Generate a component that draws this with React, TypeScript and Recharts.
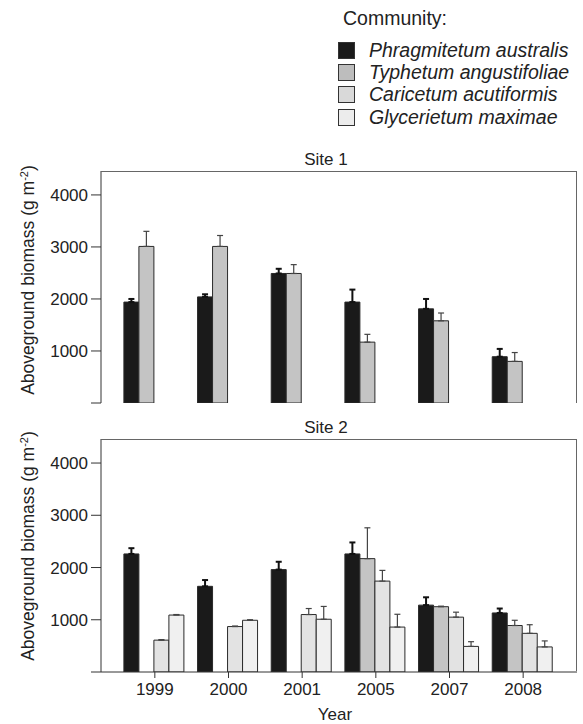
import { BarChart, Bar, XAxis, YAxis, ErrorBar } from "recharts";

const years = ["1999", "2000", "2001", "2005", "2007", "2008"];
const yTicks = [0, 1000, 2000, 3000, 4000];

// Site 1 (only two communities)
const s1Phrag = [1940, 2040, 2490, 1940, 1810, 890];
const s1PhragErr = [60, 50, 90, 240, 190, 150];
const s1Typha = [3010, 3010, 2490, 1170, 1580, 800];
const s1TyphaErr = [290, 210, 170, 150, 150, 170];

// Site 2
const s2Phrag = [2260, 1640, 1960, 2260, 1280, 1130];
const s2PhragErr = [110, 120, 150, 220, 150, 85];
const s2Typha = [null, null, null, 2170, 1250, 890];
const s2TyphaErr = [null, null, null, 590, 10, 100];
const s2Caric = [610, 870, 1100, 1740, 1050, 740];
const s2CaricErr = [10, 10, 115, 205, 95, 165];
const s2Glyc = [1090, 990, 1010, 860, 490, 480];
const s2GlycErr = [10, 10, 245, 245, 90, 115];

const communities = [
  { key: "phrag", name: "Phragmitetum australis", fill: "#1a1a1a", swatch: "#1a1a1a" },
  { key: "typha", name: "Typhetum angustifoliae", fill: "#c4c4c4", swatch: "#bdbdbd" },
  { key: "caric", name: "Caricetum acutiformis", fill: "#e3e3e3", swatch: "#d9d9d9" },
  { key: "glyc", name: "Glycerietum maximae", fill: "#f0f0f0", swatch: "#ececec" },
];

const up = (e: number | null) => (e == null ? null : [0, e]);

const site1 = years.map((year, i) => ({
  year,
  phrag: s1Phrag[i],
  phragErr: up(s1PhragErr[i]),
  typha: s1Typha[i],
  typhaErr: up(s1TyphaErr[i]),
  caric: null,
  caricErr: null,
  glyc: null,
  glycErr: null,
}));

const site2 = years.map((year, i) => ({
  year,
  phrag: s2Phrag[i],
  phragErr: up(s2PhragErr[i]),
  typha: s2Typha[i],
  typhaErr: up(s2TyphaErr[i]),
  caric: s2Caric[i],
  caricErr: up(s2CaricErr[i]),
  glyc: s2Glyc[i],
  glycErr: up(s2GlycErr[i]),
}));

const FONT = "'Liberation Sans', Arial, Helvetica, sans-serif";
const DOMAIN: [number, number] = [0, 4460];

function Panel({ data, showX, height, margin }: { data: any[]; showX: boolean; height: number; margin: any }) {
  return (
    <BarChart width={583} height={height} data={data} margin={margin} barCategoryGap="8%" barGap={0}>
      <XAxis
        dataKey="year"
        padding={{ left: 17, right: 17 }}
        stroke="#333"
        tick={showX ? { fill: "#222", fontSize: 17 } : false}
        tickLine={showX}
        tickSize={6}
        tickMargin={5}
        height={showX ? 30 : 0}
      />
      <YAxis
        domain={DOMAIN}
        ticks={yTicks}
        tickFormatter={(v: number) => (v === 0 ? "" : String(v))}
        width={101}
        stroke="#333"
        tickSize={10}
        tickMargin={3}
        tick={{ fill: "#222", fontSize: 17 }}
        allowDataOverflow
      />
      {communities.map((c) => (
        <Bar key={c.key} dataKey={c.key} fill={c.fill} stroke="#2a2a2a" strokeWidth={1} isAnimationActive={false}>
          <ErrorBar
            dataKey={c.key + "Err"}
            width={3}
            stroke={c.key === "phrag" ? "#111" : "#444"}
            strokeWidth={c.key === "phrag" ? 2 : 1.2}
            direction="y"
          />
        </Bar>
      ))}
    </BarChart>
  );
}

function Frame({ top }: { top: number }) {
  return (
    <div
      style={{
        position: "absolute",
        left: 101,
        top,
        width: 476,
        height: 232,
        borderTop: "1px solid #666",
        borderRight: "1px solid #666",
        boxSizing: "border-box",
        pointerEvents: "none",
      }}
    />
  );
}

function YLabel({ top }: { top: number }) {
  return (
    <div
      style={{
        position: "absolute",
        left: 28,
        top,
        transform: "translate(-50%, -50%) rotate(-90deg)",
        whiteSpace: "nowrap",
        fontSize: 17.5,
        color: "#222",
      }}
    >
      Aboveground biomass (g m<sup style={{ fontSize: 11, verticalAlign: "6px", lineHeight: 0 }}>-2</sup>)
    </div>
  );
}

export default function App() {
  return (
    <div style={{ position: "absolute", left: 0, top: 0, width: 583, height: 724, background: "#fff", fontFamily: FONT }}>
      {/* legend */}
      <div style={{ position: "absolute", left: 343, top: 7, fontSize: 19.5, lineHeight: "22px", color: "#222" }}>
        Community:
      </div>
      <div style={{ position: "absolute", left: 338, top: 39 }}>
        {communities.map((c) => (
          <div key={c.key} style={{ display: "flex", alignItems: "center", height: 22.3 }}>
            <div
              style={{
                width: 17,
                height: 17,
                background: c.swatch,
                border: "1px solid #333",
                boxSizing: "border-box",
                marginRight: 14,
              }}
            />
            <span style={{ fontSize: 19.5, fontStyle: "italic", color: "#222", whiteSpace: "nowrap" }}>{c.name}</span>
          </div>
        ))}
      </div>

      <div style={{ position: "absolute", left: 326, top: 160, transform: "translate(-50%, -50%)", fontSize: 17, color: "#222" }}>
        Site 1
      </div>
      <div style={{ position: "absolute", top: 140, left: 0 }}>
        <Panel data={site1} showX={false} height={270} margin={{ top: 31, right: 6, bottom: 7, left: 0 }} />
      </div>
      <Frame top={171} />
      <YLabel top={280} />

      <div style={{ position: "absolute", left: 326, top: 428, transform: "translate(-50%, -50%)", fontSize: 17, color: "#222" }}>
        Site 2
      </div>
      <div style={{ position: "absolute", top: 410, left: 0 }}>
        <Panel data={site2} showX={true} height={292} margin={{ top: 29, right: 6, bottom: 0, left: 0 }} />
      </div>
      <Frame top={439} />
      <YLabel top={546} />

      <div style={{ position: "absolute", left: 335, top: 715, transform: "translate(-50%, -50%)", fontSize: 17, color: "#222" }}>
        Year
      </div>
    </div>
  );
}
